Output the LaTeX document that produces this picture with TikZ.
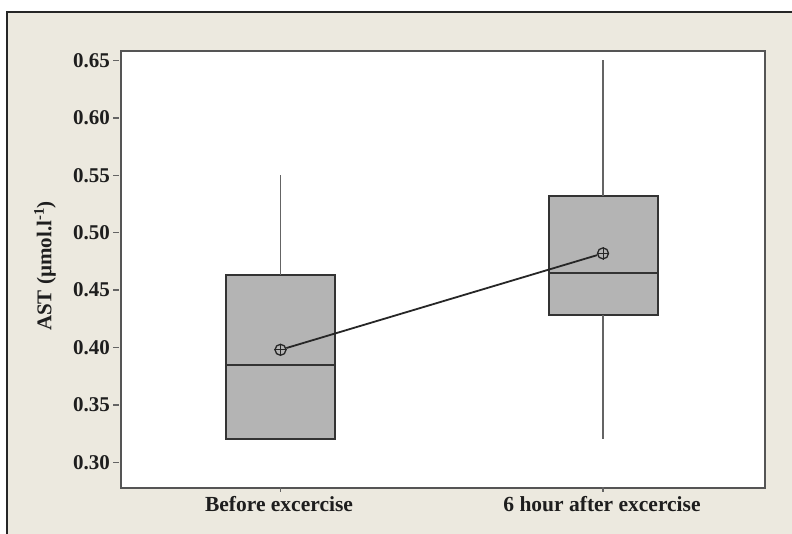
\documentclass[tikz,border=0pt]{standalone}
\usepackage{fontspec}
\setmainfont{Liberation Serif}
\definecolor{bgbeige}{RGB}{236,233,223}
\definecolor{boxgray}{RGB}{180,180,180}
\definecolor{framegray}{RGB}{85,85,85}
\definecolor{whiskgray}{RGB}{100,100,100}
\definecolor{txt}{RGB}{30,30,30}
\tikzset{
  boxstyle/.style={draw=black!80, fill=boxgray, line width=2pt, minimum width=109pt, inner sep=0pt, outer sep=0pt},
  whisker/.style={draw=whiskgray, line width=1.9pt},
  medline/.style={draw=black!80, line width=1.9pt},
  meanmark/.style={circle, draw=black!85, line width=1.3pt, minimum size=11pt, inner sep=0pt},
  meanline/.style={draw=black!85, line width=1.8pt},
  ticklab/.style={anchor=east, font=\fontsize{21}{23}\selectfont\bfseries, text=txt, inner sep=0pt},
  catlab/.style={anchor=north, font=\fontsize{21.5}{23}\selectfont\bfseries, text=txt, inner sep=0pt},
  tickmark/.style={draw=whiskgray, line width=1.5pt}
}
\begin{document}
\begin{tikzpicture}[x=1pt,y=-1pt]
\useasboundingbox (0,0) rectangle (792,534);
\fill[white] (0,0) rectangle (792,534);
\fill[bgbeige] (7,12) rectangle (792,534);
\draw[black!85, line width=1.8pt] (7,534) -- (7,12) -- (792,12);
% plot area
\node[draw=framegray, fill=white, line width=2.4pt, inner sep=0pt, minimum width=644pt, minimum height=437pt, anchor=north west] (plot) at (119.5,50) {};
% y ticks
\foreach \i/\lab in {0/0.30,1/0.35,2/0.40,3/0.45,4/0.50,5/0.55,6/0.60,7/0.65}{
  \pgfmathsetmacro{\yy}{462.3-\i*57.4}
  \coordinate (t\i) at (113,\yy);
  \draw[tickmark] (t\i) -- ++(6,0);
  \node[ticklab] (l\i) at (110,\yy) {\lab};
}
% x ticks
\coordinate (xt1) at (280.5,487);
\coordinate (xt2) at (603,487);
\draw[tickmark] (xt1) -- ++(0,5);
\draw[tickmark] (xt2) -- ++(0,5);
\node[catlab] (c1) at (279,496) {Before excercise};
\node[catlab] (c2) at (602,496) {6 hour after excercise};
% y axis label
\node[rotate=90, font=\fontsize{21}{23}\selectfont\bfseries, text=txt] (ylab) at (45,266) {AST (µmol.l\textsuperscript{-1})};
% left box
\coordinate (w1top) at (280.5,175.3);
\node[boxstyle, minimum height=164.1pt, anchor=north] (box1) at (280.5,275.2) {};
\draw[whisker] (box1.north) -- (w1top);
\draw[medline] (226,364.7) -- (335,364.7);
% right box
\coordinate (w2top) at (603,60.5);
\coordinate (w2bot) at (603,439.3);
\node[boxstyle, minimum height=119.4pt, anchor=north] (box2) at (603,196.0) {};
\draw[whisker] (box2.north) -- (w2top);
\draw[whisker] (box2.south) -- (w2bot);
\draw[medline] (548.5,272.9) -- (657.5,272.9);
% means
\node[meanmark] (m1) at (280.5,349.8) {};
\node[meanmark] (m2) at (603,253.4) {};
\draw[meanline] (m1) -- (m2);
\foreach \m in {m1,m2}{
  \draw[black!85, line width=1pt] (\m.north) -- (\m.south) (\m.east) -- (\m.west);
}
\end{tikzpicture}
\end{document}
